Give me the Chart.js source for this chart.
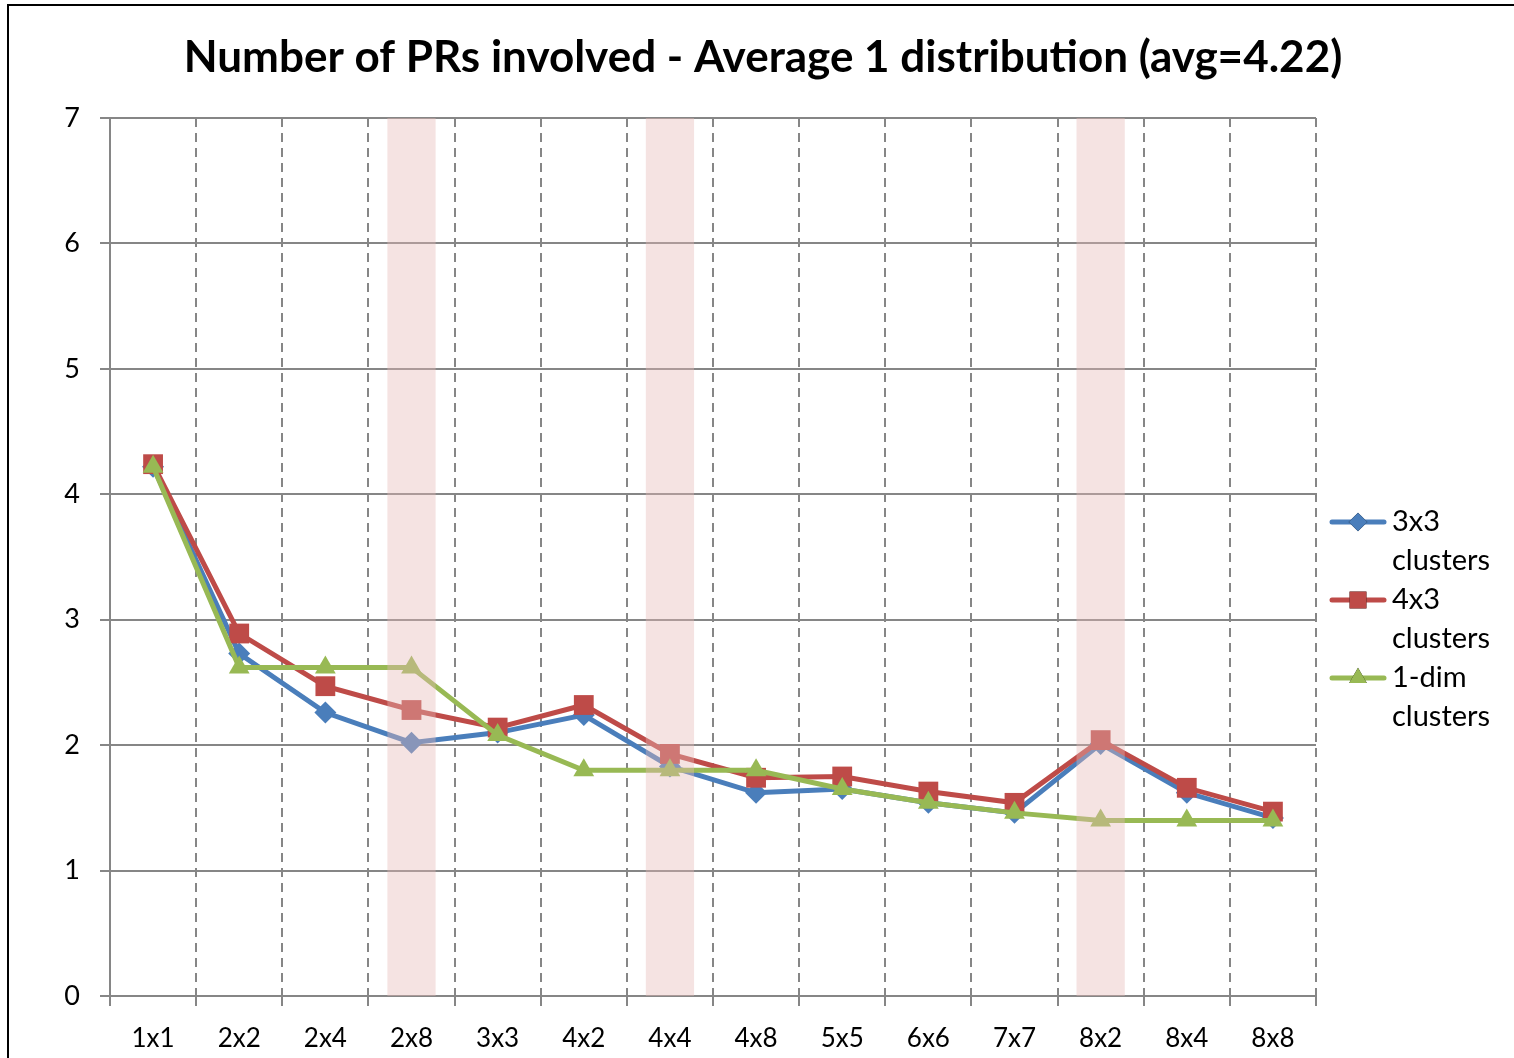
<!DOCTYPE html>
<html>
<head>
<meta charset="utf-8">
<script src="https://cdn.jsdelivr.net/npm/chart.js@4"></script>
<style>
  body { margin: 0; background: #fff; }
  canvas { display: block; }
</style>
</head>
<body>
<canvas id="chart" width="1514" height="1058"></canvas>
<script>
// Data
const categories = ['1x1', '2x2', '2x4', '2x8', '3x3', '4x2', '4x4', '4x8', '5x5', '6x6', '7x7', '8x2', '8x4', '8x8'];
const clusters3x3 = [4.22, 2.73, 2.26, 2.02, 2.10, 2.24, 1.83, 1.62, 1.65, 1.54, 1.46, 2.01, 1.62, 1.42];
const clusters4x3 = [4.24, 2.89, 2.47, 2.28, 2.14, 2.32, 1.93, 1.74, 1.75, 1.63, 1.54, 2.04, 1.66, 1.47];
const clusters1dim = [4.22, 2.62, 2.62, 2.62, 2.08, 1.80, 1.80, 1.80, 1.65, 1.54, 1.46, 1.40, 1.40, 1.40];
const seriesNames = [['3x3', 'clusters'], ['4x3', 'clusters'], ['1-dim', 'clusters']];
const highlighted = ['2x8', '4x4', '8x2'];
const yTicks = [0, 1, 2, 3, 4, 5, 6, 7];

const FONT = 'Lato, "Open Sans", sans-serif';

// Outer frame and title
const framePlugin = {
    id: 'frame',
    beforeDraw(chart) {
        const ctx = chart.ctx;
        ctx.save();
        ctx.fillStyle = '#fff';
        ctx.fillRect(0, 0, chart.width, chart.height);
        ctx.strokeStyle = '#000';
        ctx.lineWidth = 2;
        ctx.strokeRect(8, 5, 1600, 1200);
        ctx.fillStyle = '#000';
        ctx.font = 'bold 44px ' + FONT;
        ctx.textAlign = 'center';
        ctx.textBaseline = 'middle';
        ctx.fillText('Number of PRs involved - Average 1 distribution (avg=4.22)', 763, 58);
        ctx.restore();
    }
};

// Pink bands over the highlighted configurations
const bandPlugin = {
    id: 'bands',
    afterDatasetsDraw(chart) {
        const ctx = chart.ctx;
        const x = chart.scales.x;
        const area = chart.chartArea;
        const w = (x.getPixelForValue(1) - x.getPixelForValue(0)) * 0.56;
        ctx.save();
        ctx.fillStyle = 'rgba(230, 184, 183, 0.4)';
        highlighted.forEach(cat => {
            const cx = x.getPixelForValue(categories.indexOf(cat));
            ctx.fillRect(cx - w / 2, area.top, w, area.bottom - area.top);
        });
        ctx.restore();
    }
};

// Legend with wrapped labels, drawn on the right
const legendPlugin = {
    id: 'sideLegend',
    afterDraw(chart) {
        const ctx = chart.ctx;
        ctx.save();
        ctx.font = '29px ' + FONT;
        ctx.textBaseline = 'middle';
        ctx.textAlign = 'left';
        chart.data.datasets.forEach((ds, i) => {
            const y = 522 + i * 78;
            ctx.strokeStyle = ds.borderColor;
            ctx.lineWidth = 5;
            ctx.lineCap = 'round';
            ctx.beginPath();
            ctx.moveTo(1332, y);
            ctx.lineTo(1384, y);
            ctx.stroke();
            Chart.helpers.drawPoint(ctx, {
                pointStyle: ds.pointStyle,
                radius: ds.pointRadius * 0.85,
                borderWidth: 0,
                rotation: 0
            }, 1358, y);
            ctx.fillStyle = ds.backgroundColor;
            ctx.fill();
            ctx.fillStyle = '#000';
            seriesNames[i].forEach((line, j) => ctx.fillText(line, 1392, y + j * 39));
        });
        ctx.restore();
    }
};

function series(label, data, color, style, radius, order) {
    return {
        label: label,
        data: data,
        borderColor: color,
        backgroundColor: color,
        borderWidth: 5,
        pointStyle: style,
        pointRadius: radius,
        pointHoverRadius: radius,
        pointBorderWidth: 0,
        tension: 0,
        order: order
    };
}

new Chart(document.getElementById('chart'), {
    type: 'line',
    data: {
        labels: categories,
        datasets: [
            series('3x3 clusters', clusters3x3, '#4A7EBB', 'rectRot', 11, 2),
            series('4x3 clusters', clusters4x3, '#BE4B48', 'rect', 14, 1),
            series('1-dim clusters', clusters1dim, '#98B954', 'triangle', 12, 0)
        ]
    },
    options: {
        responsive: false,
        animation: false,
        layout: { padding: { left: 0, right: 198, top: 118, bottom: 0 } },
        plugins: {
            legend: { display: false },
            title: { display: false },
            tooltip: { enabled: false }
        },
        scales: {
            x: {
                offset: true,
                afterFit: s => { s.height = 62; },
                grid: {
                    offset: true,
                    color: '#868686',
                    lineWidth: 2,
                    tickLength: 10,
                    tickBorderDash: [],
                },
                // border.dash sets the dashes of the vertical grid lines
                border: { display: true, color: '#868686', width: 2, dash: [9, 6] },
                ticks: {
                    color: '#000',
                    font: { family: FONT, size: 26 },
                    padding: 17,
                    maxRotation: 0,
                    autoSkip: false
                }
            },
            y: {
                min: 0,
                max: 7,
                afterFit: s => { s.width = 110; },
                afterBuildTicks: s => { s.ticks = yTicks.map(v => ({ value: v })); },
                grid: {
                    color: '#868686',
                    lineWidth: 2,
                    tickLength: 10
                },
                border: { display: true, color: '#868686', width: 2 },
                ticks: {
                    color: '#000',
                    font: { family: FONT, size: 27 },
                    padding: 20
                }
            }
        }
    },
    plugins: [framePlugin, bandPlugin, legendPlugin]
});
</script>
</body>
</html>
